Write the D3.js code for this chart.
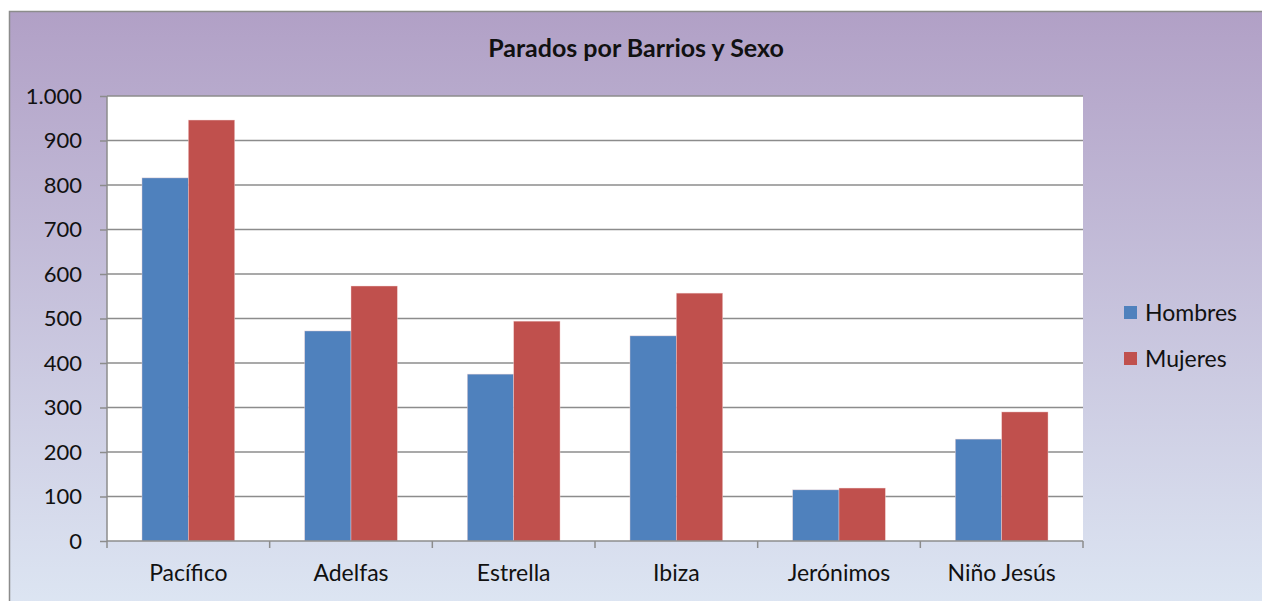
<!DOCTYPE html>
<html>
<head>
<meta charset="utf-8">
<script src="https://cdn.jsdelivr.net/npm/d3@7"></script>
<style>
  body { margin: 0; background: #fff; }
  text { font-family: Lato, "Open Sans", sans-serif; fill: #111; }
</style>
</head>
<body>
<svg id="chart" width="1262" height="601"></svg>
<script>
// data
const barrios = ["Pacífico", "Adelfas", "Estrella", "Ibiza", "Jerónimos", "Niño Jesús"];
const hombres = [816, 472, 375, 461, 115, 229];
const mujeres = [946, 573, 494, 557, 119, 290];
const yTicks = [0, 100, 200, 300, 400, 500, 600, 700, 800, 900, 1000];
const seriesNames = ["Hombres", "Mujeres"];
const colors = ["#4F81BD", "#C0504D"];

const svg = d3.select("#chart");

// background gradient
const defs = svg.append("defs");
const grad = defs.append("linearGradient")
    .attr("id", "bg").attr("x1", 0).attr("y1", 0).attr("x2", 0).attr("y2", 1);
grad.append("stop").attr("offset", "0%").attr("stop-color", "#B1A0C6");
grad.append("stop").attr("offset", "100%").attr("stop-color", "#DDE6F3");

svg.append("rect")
    .attr("x", 9.5).attr("y", 11.5)
    .attr("width", 1262).attr("height", 600)
    .attr("fill", "url(#bg)")
    .attr("stroke", "#8c8c8c").attr("stroke-width", 1.5);

const margin = {top: 96, left: 107, right: 1083, bottom: 541};

// scales
const x0 = d3.scaleBand()
    .domain(barrios)
    .range([margin.left, margin.right])
    .paddingInner(0.43)
    .paddingOuter(0.215);
const x1 = d3.scaleBand()
    .domain(seriesNames)
    .range([0, x0.bandwidth()]);
const y = d3.scaleLinear()
    .domain([0, 1000])
    .range([margin.bottom, margin.top]);

// plot area
svg.append("rect")
    .attr("x", margin.left).attr("y", margin.top)
    .attr("width", margin.right - margin.left)
    .attr("height", margin.bottom - margin.top)
    .attr("fill", "#fff");

// grid
svg.append("g")
    .attr("class", "grid")
    .selectAll("line").data(yTicks.slice(1))
    .enter().append("line")
    .attr("x1", margin.left).attr("x2", margin.right)
    .attr("y1", d => y(d)).attr("y2", d => y(d))
    .attr("stroke", "#8c8c8c").attr("stroke-width", 1.5);

// bars
const groups = svg.append("g").selectAll("g")
    .data(barrios)
    .enter().append("g")
    .attr("transform", d => `translate(${x0(d)},0)`);
groups.selectAll("rect")
    .data((d, i) => [hombres[i], mujeres[i]])
    .enter().append("rect")
    .attr("x", (d, j) => x1(seriesNames[j]))
    .attr("y", d => y(d))
    .attr("width", x1.bandwidth())
    .attr("height", d => y(0) - y(d))
    .attr("fill", (d, j) => colors[j])
    .attr("stroke", "#f3d6d6").attr("stroke-width", 0.6).attr("stroke-opacity", 0.7);

// y axis
const yAxis = d3.axisLeft(y).tickValues(yTicks).tickSize(7).tickPadding(18)
    .tickFormat(d => d3.format(",")(d).replace(",", "."));
const yAxisG = svg.append("g")
    .attr("transform", `translate(${margin.left},0)`)
    .call(yAxis);
yAxisG.select(".domain").attr("stroke", "#8c8c8c").attr("stroke-width", 1.5)
    .attr("d", `M0,${margin.top}V${margin.bottom}`);
yAxisG.selectAll(".tick line").attr("stroke", "#8c8c8c").attr("stroke-width", 1.5);
yAxisG.selectAll("text").style("font-size", "22px").attr("fill", "#111");

// x axis
const xAxis = d3.axisBottom(x0).tickSize(0).tickPadding(24);
const xAxisG = svg.append("g")
    .attr("transform", `translate(0,${margin.bottom})`)
    .call(xAxis);
xAxisG.select(".domain").attr("stroke", "#8c8c8c").attr("stroke-width", 1.5)
    .attr("d", `M${margin.left},0H${margin.right}`);
xAxisG.selectAll("text").style("font-size", "23px").attr("fill", "#111");
// category dividers
xAxisG.selectAll(".div").data(d3.range(barrios.length + 1))
    .enter().append("line")
    .attr("x1", i => margin.left + i * (margin.right - margin.left) / barrios.length)
    .attr("x2", i => margin.left + i * (margin.right - margin.left) / barrios.length)
    .attr("y1", 0).attr("y2", 7)
    .attr("stroke", "#8c8c8c").attr("stroke-width", 1.5);

// title
svg.append("text")
    .attr("x", 636).attr("y", 57)
    .attr("text-anchor", "middle")
    .style("font-size", "25px").style("font-weight", "bold")
    .text("Parados por Barrios y Sexo");

// legend
const legend = svg.append("g").selectAll("g")
    .data(seriesNames)
    .enter().append("g")
    .attr("transform", (d, i) => `translate(1124,${313 + i * 46})`);
legend.append("rect")
    .attr("x", 0).attr("y", -7).attr("width", 13).attr("height", 13)
    .attr("fill", (d, i) => colors[i]);
legend.append("text")
    .attr("x", 21).attr("y", 8)
    .style("font-size", "23px")
    .text(d => d);
</script>
</body>
</html>
